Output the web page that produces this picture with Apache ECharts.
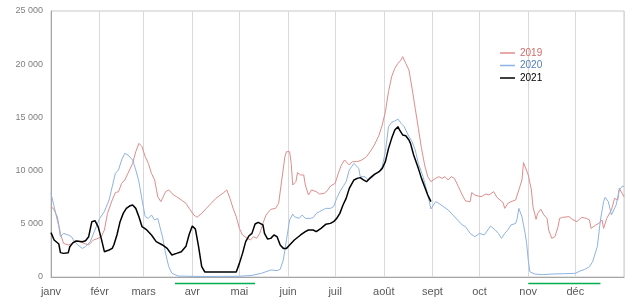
<!DOCTYPE html>
<html><head><meta charset="utf-8">
<script src="https://cdn.jsdelivr.net/npm/echarts@6/dist/echarts.min.js"></script>
<style>html,body{margin:0;padding:0;background:#fff}#c{width:632px;height:299px}</style>
</head><body><div id="c"></div>
<script>
const monthNames = ['janv','févr','mars','avr','mai','juin','juil','août','sept','oct','nov','déc'];
const monthDays = [31,28,31,30,31,30,31,31,30,31,30,31];
const yTicks = [0,5000,10000,15000,20000,25000];
const seriesNames = ['2019','2020','2021'];

// day-of-year positions and values for each year
const d2019 = [0,2,4,6,8,11,14,17,21,24,27,30,32,34,36,39,41,43,45,47,49,52,54,56,58,60,62,64,66,68,70,73,75,76,78,80,83,86,88,91,93,96,99,102,105,108,110,112,114,116,118,120,122,125,127,129,131,133,135,137,140,143,145,147,149,150,152,153,154,156,157,159,161,162,164,166,169,171,174,176,178,181,183,185,187,188,190,192,195,198,201,204,206,209,211,213,215,217,219,221,223,224,226,228,230,232,234,236,238,240,242,245,247,249,251,253,255,257,259,262,264,267,268,270,272,274,277,279,282,284,286,288,289,291,293,296,298,300,301,302,304,306,307,309,310,312,314,316,317,319,321,323,324,326,330,332,335,338,341,343,344,347,349,351,352,354,355,357,359,361,362,363,365];
const v2019 = [6670,6300,5670,4100,3160,3010,3160,3410,3160,3010,3480,3630,3790,4420,5980,7240,7930,8020,8800,9120,9740,10680,11780,12560,12250,11310,10680,9740,9120,7550,7080,8020,8180,8330,7710,7550,7240,6920,6450,5830,5610,5980,6450,6920,7390,7710,7930,8180,7390,6450,5670,4570,3950,3630,3480,3790,3630,4100,5040,5830,6360,6450,6920,9120,11310,11780,11780,10680,8650,8960,9810,9590,9590,8650,7710,8180,8020,7800,7860,8110,8550,8800,9740,10530,11000,11150,10530,10840,10840,11000,11310,11940,12410,13350,14290,15540,17420,18830,19610,20080,20400,20710,20080,19460,17730,15850,13970,12090,10530,9430,8960,9270,9430,9270,9430,9120,9430,9270,8650,7710,7150,7080,7930,7710,7610,7550,7800,7710,8020,7490,7240,6990,6450,6920,7080,7240,8180,9120,10750,10680,9590,8180,6610,5420,5980,6360,5830,5510,4420,3630,3790,4730,5510,5610,5670,5420,5200,5610,5510,5360,4570,4890,5040,5360,4570,5510,5360,6300,7390,7240,8330,8180,7550];

const d2020 = [0,2,5,6,8,11,13,15,17,20,22,25,28,31,34,37,39,41,43,45,47,49,52,54,56,58,60,62,64,66,68,71,73,75,77,81,90,100,110,120,128,134,140,144,146,148,150,152,154,155,158,160,162,165,167,169,171,175,178,180,182,184,186,188,190,193,194,196,197,200,202,204,206,209,211,213,215,217,219,221,223,225,228,230,232,234,237,239,241,242,245,247,250,253,256,259,262,264,267,270,273,276,280,283,285,287,289,291,293,296,297,298,300,302,303,304,305,308,313,319,327,334,337,340,343,345,348,350,352,353,355,357,358,360,362,364,365];
const v2020 = [7860,6610,4730,3790,4100,3950,3790,3320,3010,2690,2850,3320,4420,5510,6140,7240,8490,9740,10060,11000,11620,11470,11000,10060,8960,7240,5670,5510,5830,5360,5510,3790,2220,970,345,90,60,50,60,70,150,345,660,600,720,1600,3480,5360,5920,5670,5510,5830,5510,5510,5580,5980,6140,6450,6450,6610,7390,8020,8490,8960,10060,10680,10840,10210,9430,9430,9120,9270,9590,9900,10370,11780,14130,14540,14660,14850,14440,14130,13190,12720,11940,10680,9430,8330,7080,6390,7080,6920,6610,6300,5830,5360,4890,4730,4100,3790,4100,3950,4790,4420,4100,3630,4100,4420,4890,5040,5510,6450,5670,4100,3160,1600,500,280,220,280,310,345,560,720,970,1440,2850,5360,7080,7490,7080,5830,5980,6770,8180,8550,8490];

const d2021 = [0,2,5,6,8,11,12,14,16,20,22,24,26,28,30,32,34,37,39,40,42,44,46,48,50,52,54,56,58,61,64,67,71,74,77,80,83,86,88,90,92,94,96,98,118,120,122,124,126,128,130,132,135,136,138,140,142,144,146,148,150,152,155,159,162,164,167,169,172,175,178,180,182,184,186,188,190,193,195,197,199,201,203,206,209,211,213,215,217,219,221,222,224,226,228,229,231,234,236,238,240,242];
const v2021 = [4170,3480,3100,2290,2220,2290,2850,3230,3380,3320,3410,3790,5200,5290,4730,3630,2380,2540,2690,3010,3950,5200,5980,6450,6670,6770,6450,5670,4730,4420,3950,3320,3010,2690,2070,2220,2380,2900,4000,4800,4500,2850,970,470,470,1280,2220,3320,3850,4100,4980,5140,4890,4100,3570,3630,3950,3790,3010,2690,2690,3010,3480,3950,4260,4420,4420,4260,4570,4950,5040,5200,5510,5980,6770,7390,8330,9120,9270,9340,9120,8960,9270,9650,9900,10210,10840,12090,13030,13820,14130,13820,13350,13280,12880,12560,11470,10210,9270,8490,7710,7080];

// lockdown periods marked under the axis (day-of-year)
const lockdowns = [[79,130],[304,350]];

const colors = ['#e08c8c','#8db3e2','#000000'];
const legendColors = ['#d46a6a','#4f7fbf','#000000'];

const categories = [];
const monthStarts = [];
let idx = 0;
monthDays.forEach((n, m) => {
  monthStarts.push(idx);
  for (let d = 0; d < n; d++) { categories.push((m + 1) + '-' + (d + 1)); idx++; }
});
categories.push('end');
const gridIdx = monthStarts.concat([idx]);

function pairs(ds, vs) { return ds.map((d, i) => [d, vs[i]]); }
const dataSets = [pairs(d2019, v2019), pairs(d2020, v2020), pairs(d2021, v2021)];

function fmt(v) {
  if (v < 1000) return String(v);
  const s = String(v);
  return s.slice(0, s.length - 3) + ' ' + s.slice(s.length - 3);
}

const chart = echarts.init(document.getElementById('c'), null, {renderer: 'canvas'});
const option = {
  animation: false,
  backgroundColor: '#ffffff',
  textStyle: {fontFamily: '"Liberation Sans", Arial, sans-serif'},
  grid: {left: 51, right: 8, top: 11, bottom: 22, show: true, borderColor: '#c8c8c8', borderWidth: 1},
  legend: {
    orient: 'vertical', left: 495, top: 42, itemWidth: 15, itemHeight: 1.5, itemGap: 0.5,
    icon: 'rect',
    textStyle: {fontSize: 10, lineHeight: 12, fontFamily: '"Liberation Sans", Arial, sans-serif'},
    data: seriesNames.map((n, i) => ({name: n, textStyle: {color: legendColors[i]}}))
  },
  xAxis: {
    type: 'category', data: categories, boundaryGap: false,
    axisLine: {lineStyle: {color: '#a6a6a6'}},
    axisTick: {show: false},
    axisLabel: {
      interval: (i) => monthStarts.indexOf(i) >= 0,
      formatter: (v, i) => { const k = monthStarts.indexOf(i); return k >= 0 ? monthNames[k] : ''; },
      color: '#595959', fontSize: 11, margin: 9, fontFamily: '"Liberation Sans", Arial, sans-serif'
    },
    splitLine: {show: true, interval: (i) => gridIdx.indexOf(i) >= 0, lineStyle: {color: '#d9d9d9', width: 1}}
  },
  yAxis: {
    type: 'value', min: 0, max: 25000, interval: 5000,
    axisLine: {show: true, lineStyle: {color: '#a6a6a6'}},
    axisTick: {show: false},
    splitLine: {show: false},
    axisLabel: {formatter: (v) => fmt(v), color: '#7f7f7f', fontSize: 9, margin: 8, fontFamily: '"Liberation Sans", Arial, sans-serif'}
  },
  series: seriesNames.map((n, i) => ({
    name: n, type: 'line', data: dataSets[i], showSymbol: false, symbol: 'none',
    color: colors[i],
    lineStyle: {color: colors[i], width: i === 2 ? 1.5 : 1},
    z: i === 2 ? 3 : 2
  }))
};
chart.setOption(option);

const gfx = lockdowns.map(([a, b]) => {
  const p1 = chart.convertToPixel({xAxisIndex: 0, yAxisIndex: 0}, [a, 0]);
  const p2 = chart.convertToPixel({xAxisIndex: 0, yAxisIndex: 0}, [b, 0]);
  return {type: 'line', shape: {x1: p1[0], y1: p1[1] + 6.5, x2: p2[0], y2: p2[1] + 6.5},
          style: {stroke: '#00b050', lineWidth: 1.5}};
});
chart.setOption({graphic: gfx});
</script>
</body></html>
